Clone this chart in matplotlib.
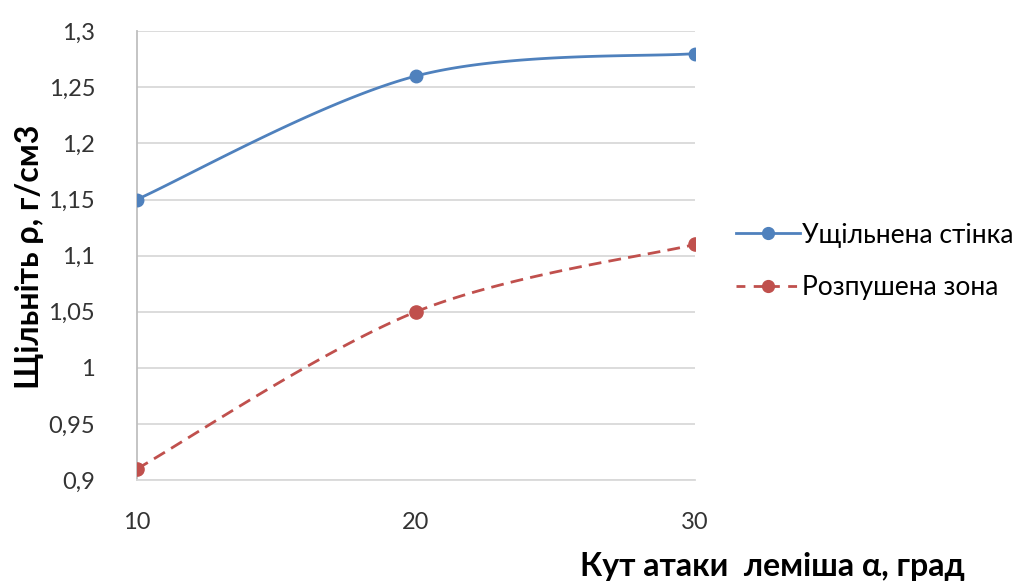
import matplotlib.pyplot as plt
import numpy as np
from matplotlib.ticker import FuncFormatter

# data
angle = [10, 20, 30]
compacted_wall = [1.15, 1.26, 1.28]
loosened_zone = [0.91, 1.05, 1.11]
series_names = ['Ущільнена стінка', 'Розпушена зона']
y_ticks = [0.9, 0.95, 1.0, 1.05, 1.1, 1.15, 1.2, 1.25, 1.3]

plt.rcParams['font.family'] = ['Lato', 'DejaVu Sans']


def smooth(xs, ys, n=60):
    # Excel-like smoothed line: cubic Bezier segments, 1/6 tangent rule
    p = np.column_stack([xs, ys]).astype(float)
    out = []
    for i in range(len(p) - 1):
        p0 = p[i - 1] if i > 0 else p[i]
        p1, p2 = p[i], p[i + 1]
        p3 = p[i + 2] if i + 2 < len(p) else p[i + 1]
        c1 = p1 + (p2 - p0) / 6
        c2 = p2 - (p3 - p1) / 6
        t = np.linspace(0, 1, n)[:, None]
        seg = ((1 - t) ** 3) * p1 + 3 * ((1 - t) ** 2) * t * c1 + 3 * (1 - t) * t ** 2 * c2 + t ** 3 * p2
        out.append(seg if i == 0 else seg[1:])
    pts = np.vstack(out)
    return pts[:, 0], pts[:, 1]


fig = plt.figure(figsize=(10.36, 5.87), dpi=100)
ax = fig.add_axes([0.132, 0.182, 0.539, 0.765])

blue = '#4F81BD'
red = '#C0504D'
lw = 2.0
dash = (4.6, 2.6)

sx, sy = smooth(angle, compacted_wall)
ax.plot(sx, sy, color=blue, lw=lw, zorder=3)
ax.plot(angle, compacted_wall, 'o', color=blue, ms=9, zorder=4)

sx, sy = smooth(angle, loosened_zone)
ax.plot(sx, sy, color=red, lw=lw, dashes=dash, zorder=3)
ax.plot(angle, loosened_zone, 'o', color=red, ms=9.5, zorder=4)

# legend handles
h1, = ax.plot([], [], color=blue, lw=lw, marker='o', ms=8.5)
h2, = ax.plot([], [], color=red, lw=lw, dashes=(3.2, 3.0), marker='o', ms=8.5)
ax.legend([h1, h2], series_names, loc='center left', bbox_to_anchor=(1.055, 0.487),
          frameon=False, fontsize=19, handlelength=2.4, handletextpad=0.1,
          labelspacing=1.05, borderaxespad=0)

ax.set_xlim(10, 30)
ax.set_ylim(0.9, 1.3)
ax.set_xticks(angle)
ax.set_yticks(y_ticks)
ax.yaxis.set_major_formatter(FuncFormatter(lambda v, p: ('%g' % round(v, 2)).replace('.', ',')))
ax.tick_params(length=0, labelsize=17, colors='#333333')
ax.tick_params(axis='y', pad=30)
ax.tick_params(axis='x', pad=23)
ax.grid(axis='y', color='#D9D9D9', lw=1.3)
ax.set_axisbelow(True)
for s in ['top', 'right']:
    ax.spines[s].set_visible(False)
ax.spines['left'].set_color('#BFBFBF')
ax.spines['bottom'].set_color('#D9D9D9')
ax.spines['left'].set_linewidth(1.3)
ax.spines['bottom'].set_linewidth(1.3)

fig.text(0.028, 0.562, 'Щільніть ρ, г/см3', rotation=90, ha='center', va='center',
         fontsize=23, fontweight='bold')
fig.text(0.746, 0.035, 'Кут атаки  леміша α, град', ha='center', va='center',
         fontsize=23, fontweight='bold')

fig.savefig('out.png', dpi=100)
